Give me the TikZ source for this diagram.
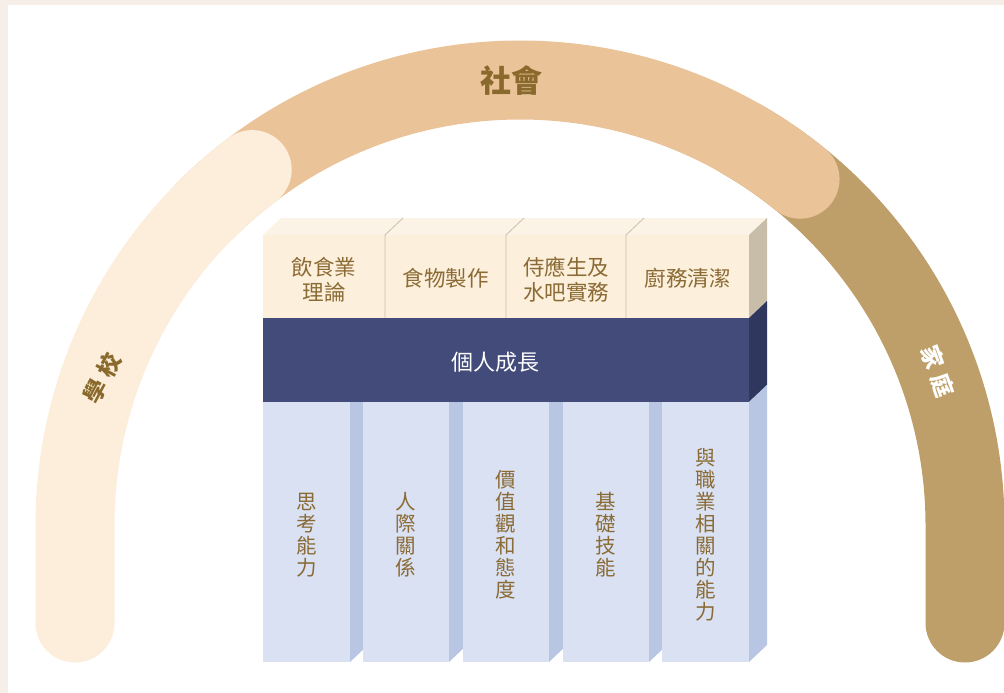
\documentclass[tikz,border=0pt]{standalone}
\usepackage{fontspec}
\newfontfamily\cjk{Noto Sans CJK TC}
\definecolor{bordc}{HTML}{F5EEE9}
\definecolor{creamarc}{HTML}{FCEEDA}
\definecolor{orangearc}{HTML}{EAC399}
\definecolor{tanarc}{HTML}{BE9F6A}
\definecolor{lblbrown}{HTML}{8A6A2C}
\definecolor{txtbrown}{HTML}{8B6B35}
\definecolor{topface}{HTML}{FBF3E6}
\definecolor{creamfront}{HTML}{FCEFDB}
\definecolor{creamside}{HTML}{C8BDA9}
\definecolor{divc}{HTML}{CDBFA8}
\definecolor{navyfront}{HTML}{434B7B}
\definecolor{navyside}{HTML}{2F375F}
\definecolor{pilfront}{HTML}{D9E1F2}
\definecolor{pilside}{HTML}{B8C6E4}
\begin{document}
\begin{tikzpicture}[x=1pt,y=-1pt,
  band/.style={line width=79pt, line cap=round},
  arclbl/.style={font=\cjk\bfseries\fontsize{23}{23}\selectfont, inner sep=0pt},
  boxtxt/.style={font=\cjk\fontsize{21.5}{25}\selectfont, text=txtbrown, align=center, inner sep=0pt},
  piltxt/.style={font=\cjk\fontsize{20.5}{22}\selectfont, text=txtbrown, align=center, inner sep=0pt},
  divider/.style={draw=divc, line width=0.8pt}]
\useasboundingbox (0,0) rectangle (1004,693);
\fill[bordc] (0,0) rectangle (1004,693);
\fill[white] (8,5) rectangle (1004,693);
% arc band
\coordinate (C) at (520,525);
\path (C) ++(300:445) coordinate (tanstart);
\path (C) ++(225:445) coordinate (orstart);
\coordinate (crstart) at (75,623);
\coordinate (tanend) at (965,623);
\draw[band, draw=tanarc] (tanstart) arc[start angle=300, end angle=360, radius=445] -- (tanend);
\draw[band, draw=orangearc] (orstart) arc[start angle=225, end angle=309, radius=445];
\draw[band, draw=creamarc] (crstart) -- (75,525) arc[start angle=180, end angle=233, radius=445];
% top cream row
\fill[topface] (263,235) -- (281,218) -- (767,218) -- (749,235) -- cycle;
\fill[creamside] (749,235) -- (767,218) -- (767,301) -- (749,318) -- cycle;
\fill[creamfront] (263,235) rectangle (749,318);
\foreach \x in {385,506,626}{
  \draw[divider] (\x,318) -- (\x,235) -- (\x+18,218);
}
% navy band
\fill[navyfront] (263,318) rectangle (749,402);
\fill[navyside] (749,318) -- (767,301) -- (767,385) -- (749,402) -- cycle;
% pillars
\foreach \r in {350,449,549,649}{
  \fill[pilside] (\r,402) -- (\r+18,402) -- (\r+18,645) -- (\r,662) -- cycle;
}
\fill[pilside] (749,402) -- (767,385) -- (767,645) -- (749,662) -- cycle;
\foreach \l/\r in {263/350,363/449,463/549,563/649,662/749}{
  \fill[pilfront] (\l,402) rectangle (\r,662);
}
% texts
\node[boxtxt] (b1) at (324,280) {飲食業\\理論};
\node[boxtxt] (b2) at (445.5,278) {食物製作};
\node[boxtxt] (b3) at (566,280) {侍應生及\\水吧實務};
\node[boxtxt] (b4) at (687.5,278) {廚務清潔};
\node[font=\cjk\fontsize{22}{22}\selectfont, text=white, inner sep=0pt] (pg) at (495,362) {個人成長};
\node[piltxt] (p1) at (306.5,535) {思\\考\\能\\力};
\node[piltxt] (p2) at (406,535) {人\\際\\關\\係};
\node[piltxt] (p3) at (506,535) {價\\值\\觀\\和\\態\\度};
\node[piltxt] (p4) at (606,535) {基\\礎\\技\\能};
\node[piltxt] (p5) at (705.5,535) {與\\職\\業\\相\\關\\的\\能\\力};
\node[arclbl, text=lblbrown, font=\cjk\bfseries\fontsize{31}{31}\selectfont] (soc) at (511,81) {社會};
\node[arclbl, text=lblbrown, rotate=62] (sch) at (102,378) {學\hspace{7pt}校};
\node[arclbl, text=white, rotate=-70] (fam) at (938,371) {家\hspace{7pt}庭};
\end{tikzpicture}
\end{document}
